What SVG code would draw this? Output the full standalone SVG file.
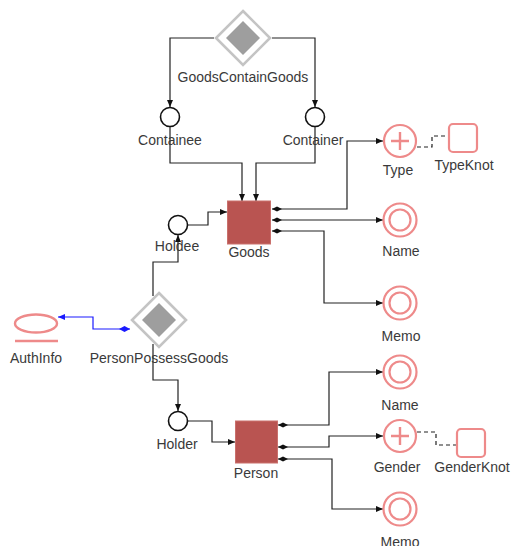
<svg xmlns="http://www.w3.org/2000/svg" width="511" height="546" viewBox="0 0 511 546">
  <defs>
    <style>
      .lbl { font-family: "Liberation Sans", Arial, sans-serif; font-size: 14px; fill: #3a3a3a; text-anchor: middle; }
      .edge { fill: none; stroke: #222; stroke-width: 1.2; }
      .dash { fill: none; stroke: #222; stroke-width: 1.2; stroke-dasharray: 4 3; }
      .blue { fill: none; stroke: #1a1aff; stroke-width: 1.2; }
      .role { fill: #fff; stroke: #111; stroke-width: 1.6; }
      .attr { fill: #fff; stroke: #ee8a8a; stroke-width: 2.2; }
      .knot { fill: #fff; stroke: #ee8a8a; stroke-width: 2.2; }
      .entity { fill: #b95451; stroke: #c9706c; stroke-width: 1; }
      .relOuter { fill: #fff; stroke: #c4c4c4; stroke-width: 2.6; }
      .relInner { fill: #9e9e9e; }
    </style>
    <marker id="arrow" markerWidth="8" markerHeight="6" refX="7" refY="3" orient="auto" markerUnits="userSpaceOnUse">
      <path d="M0,0 L7,3 L0,6 z" fill="#111"/>
    </marker>
    <marker id="arrowBlue" markerWidth="8" markerHeight="6" refX="7" refY="3" orient="auto" markerUnits="userSpaceOnUse">
      <path d="M0,0 L7,3 L0,6 z" fill="#1a1aff"/>
    </marker>
    <marker id="dia" markerWidth="11" markerHeight="6" refX="0" refY="3" orient="auto" markerUnits="userSpaceOnUse">
      <path d="M0,3 L5,0.5 L10,3 L5,5.5 z" fill="#111"/>
    </marker>
    <marker id="diaBlue" markerWidth="12" markerHeight="7" refX="0" refY="3.5" orient="auto" markerUnits="userSpaceOnUse">
      <path d="M0,3.5 L5.5,0.5 L11,3.5 L5.5,6.5 z" fill="#1a1aff"/>
    </marker>
  </defs>

  <!-- connectors -->
  <g id="connectors">
    <path class="edge" d="M214,38 H170 V107" marker-end="url(#arrow)"/>
    <path class="edge" d="M272,38 H315 V107" marker-end="url(#arrow)"/>
    <path class="edge" d="M170,127 V163 H242 V201" marker-end="url(#arrow)"/>
    <path class="edge" d="M315,127 V163 H256 V201" marker-end="url(#arrow)"/>
    <path class="edge" d="M188,225 H208 V212 H227" marker-end="url(#arrow)"/>
    <path class="edge" d="M153,296 V262 H178 V235" marker-end="url(#arrow)"/>
    <path class="edge" d="M272,209 H347 V141 H383" marker-start="url(#dia)" marker-end="url(#arrow)"/>
    <path class="edge" d="M272,220 H383" marker-start="url(#dia)" marker-end="url(#arrow)"/>
    <path class="edge" d="M272,231 H324 V303 H383" marker-start="url(#dia)" marker-end="url(#arrow)"/>
    <path class="dash" d="M417,147 H432 V136 H449"/>
    <path class="blue" d="M130,329 H93 V317 H58" marker-start="url(#diaBlue)" marker-end="url(#arrowBlue)"/>
    <path class="edge" d="M153,344 V380 H178 V411" marker-end="url(#arrow)"/>
    <path class="edge" d="M188,421 H212 V442 H235" marker-end="url(#arrow)"/>
    <path class="edge" d="M278,425 H329 V372 H383" marker-start="url(#dia)" marker-end="url(#arrow)"/>
    <path class="edge" d="M278,447 H329 V436 H383" marker-start="url(#dia)" marker-end="url(#arrow)"/>
    <path class="edge" d="M278,459 H332 V509 H383" marker-start="url(#dia)" marker-end="url(#arrow)"/>
    <path class="dash" d="M417,432 H436 V445 H457"/>
  </g>

  <!-- relationship: GoodsContainGoods -->
  <g id="GoodsContainGoods">
    <path class="relOuter" d="M243,11 L270,38 L243,65 L216,38 z"/>
    <path class="relInner" d="M243,21 L260,38 L243,55 L226,38 z"/>
    <text class="lbl" x="243" y="82">GoodsContainGoods</text>
  </g>

  <g id="Containee">
    <circle class="role" cx="170" cy="117" r="9.5"/>
    <text class="lbl" x="170" y="145">Containee</text>
  </g>

  <g id="Container">
    <circle class="role" cx="315" cy="117" r="9.5"/>
    <text class="lbl" x="313" y="145">Container</text>
  </g>

  <g id="Goods">
    <rect class="entity" x="227.5" y="201" width="43" height="43"/>
    <text class="lbl" x="249" y="257">Goods</text>
  </g>

  <g id="Holdee">
    <circle class="role" cx="178" cy="225" r="9.5"/>
    <text class="lbl" x="177" y="251">Holdee</text>
  </g>

  <g id="Type">
    <circle class="attr" cx="400" cy="141" r="16"/>
    <path d="M391,141 H409 M400,132 V150" stroke="#ee8a8a" stroke-width="2.4" fill="none"/>
    <text class="lbl" x="398" y="175">Type</text>
  </g>

  <g id="TypeKnot">
    <rect class="knot" x="449" y="124" width="28" height="28" rx="4"/>
    <text class="lbl" x="464" y="170">TypeKnot</text>
  </g>

  <g id="GoodsName">
    <circle class="attr" cx="400" cy="220" r="16.5"/>
    <circle class="attr" cx="400" cy="220" r="10.5"/>
    <text class="lbl" x="401" y="256">Name</text>
  </g>

  <g id="GoodsMemo">
    <circle class="attr" cx="400" cy="303" r="16.5"/>
    <circle class="attr" cx="400" cy="303" r="10.5"/>
    <text class="lbl" x="401" y="341">Memo</text>
  </g>

  <g id="AuthInfo">
    <ellipse cx="36" cy="323.5" rx="21" ry="9" fill="#fff" stroke="#ee8a8a" stroke-width="2.4"/>
    <line x1="15" y1="341" x2="58" y2="341" stroke="#ee8a8a" stroke-width="2.6"/>
    <text class="lbl" x="36" y="363">AuthInfo</text>
  </g>

  <!-- relationship: PersonPossessGoods -->
  <g id="PersonPossessGoods">
    <path class="relOuter" d="M159,293 L186,320 L159,347 L132,320 z"/>
    <path class="relInner" d="M159,303 L176,320 L159,337 L142,320 z"/>
    <text class="lbl" x="159" y="363">PersonPossessGoods</text>
  </g>

  <g id="Holder">
    <circle class="role" cx="178" cy="421" r="9.5"/>
    <text class="lbl" x="177" y="449">Holder</text>
  </g>

  <g id="Person">
    <rect class="entity" x="235.5" y="421" width="42" height="42"/>
    <text class="lbl" x="256" y="478">Person</text>
  </g>

  <g id="PersonName">
    <circle class="attr" cx="400" cy="372" r="16.5"/>
    <circle class="attr" cx="400" cy="372" r="10.5"/>
    <text class="lbl" x="400" y="410">Name</text>
  </g>

  <g id="Gender">
    <circle class="attr" cx="400" cy="436" r="16"/>
    <path d="M391,436 H409 M400,427 V445" stroke="#ee8a8a" stroke-width="2.4" fill="none"/>
    <text class="lbl" x="397" y="472">Gender</text>
  </g>

  <g id="GenderKnot">
    <rect class="knot" x="457" y="429" width="28" height="28" rx="4"/>
    <text class="lbl" x="472" y="472">GenderKnot</text>
  </g>

  <g id="PersonMemo">
    <circle class="attr" cx="400" cy="509" r="16.5"/>
    <circle class="attr" cx="400" cy="509" r="10.5"/>
    <text class="lbl" x="400" y="547">Memo</text>
  </g>
</svg>
